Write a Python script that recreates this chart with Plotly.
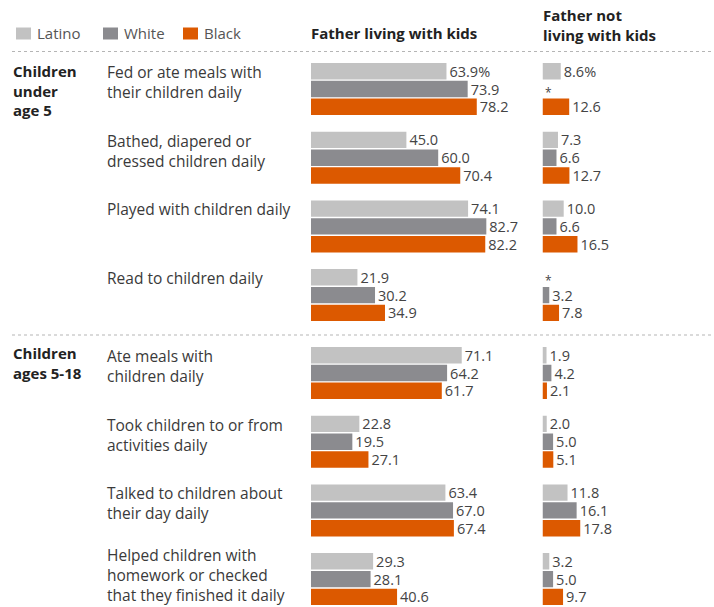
import plotly.graph_objects as go

# ---------------- data ----------------
sections = ["Children<br>under<br>age 5", "Children<br>ages 5-18"]
activities = [
    "Fed or ate meals with<br>their children daily",
    "Bathed, diapered or<br>dressed children daily",
    "Played with children daily",
    "Read to children daily",
    "Ate meals with<br>children daily",
    "Took children to or from<br>activities daily",
    "Talked to children about<br>their day daily",
    "Helped children with<br>homework or checked<br>that they finished it daily",
]
groups = ["Latino", "White", "Black"]

living_latino = [63.9, 45.0, 74.1, 21.9, 71.1, 22.8, 63.4, 29.3]
living_white = [73.9, 60.0, 82.7, 30.2, 64.2, 19.5, 67.0, 28.1]
living_black = [78.2, 70.4, 82.2, 34.9, 61.7, 27.1, 67.4, 40.6]

notliving_latino = [8.6, 7.3, 10.0, None, 1.9, 2.0, 11.8, 3.2]
notliving_white = [None, 6.6, 6.6, 3.2, 4.2, 5.0, 16.1, 5.0]
notliving_black = [12.6, 12.7, 16.5, 7.8, 2.1, 5.1, 17.8, 9.7]

header_living = "Father living with kids"
header_not = "Father not<br>living with kids"

# ---------------- styling / layout ----------------
W, H = 714, 607
colors = {"Latino": "#c2c2c2", "White": "#8b8b8f", "Black": "#dc5900"}
FONT = "Open Sans"
PX_PER_UNIT = 2.12
LEFT_X0 = 311
RIGHT_X0 = 542.5

SEC_TOP = [63, 347]
GROUP_PITCH = 68.7
BAR_PITCH = 17.8
BAR_W = 16.4
LABEL_SIZE = 15.5
LINE_H = 1.3 * LABEL_SIZE


def group_top(i):
    return SEC_TOP[i // 4] + (i % 4) * GROUP_PITCH


def bar_y(i, k):
    return group_top(i) + 8.2 + k * BAR_PITCH


def px(x):
    return x / W


def fmt(vals, pct_first):
    out = []
    for j, v in enumerate(vals):
        if v is None:
            out.append("")
        else:
            s = f"{v:.1f}"
            if j == 0 and pct_first:
                s += "%"
            out.append(s)
    return out


fig = go.Figure()

living = [living_latino, living_white, living_black]
notliving = [notliving_latino, notliving_white, notliving_black]

for k, g in enumerate(groups):
    ys = [bar_y(i, k) for i in range(len(activities))]
    for axis, series in (("x", living[k]), ("x2", notliving[k])):
        fig.add_trace(go.Bar(
            orientation="h",
            x=series,
            y=ys,
            width=BAR_W,
            xaxis=axis,
            yaxis="y",
            marker=dict(color=colors[g], line=dict(width=0)),
            text=fmt(series, k == 0),
            textposition="outside",
            textfont=dict(family=FONT, size=14.5, color="#444444"),
            constraintext="none",
            cliponaxis=False,
            showlegend=False,
            hoverinfo="skip",
        ))

annotations = []
shapes = []

# missing-value asterisks
for k in range(3):
    for i, v in enumerate(notliving[k]):
        if v is None:
            annotations.append(dict(
                x=px(RIGHT_X0 + 0.5), y=bar_y(i, k) + 3, xref="paper", yref="y",
                text="*", showarrow=False, xanchor="left", yanchor="middle",
                font=dict(family=FONT, size=12, color="#444444"),
            ))

# activity labels
for i, lab in enumerate(activities):
    n = lab.count("<br>") + 1
    if n >= 3:
        ann_y, anchor = H - 0.5, "bottom"
    else:
        first = group_top(i) + 9
        ann_y, anchor = first + (n - 1) * LINE_H / 2, "middle"
    annotations.append(dict(
        x=px(106), y=ann_y, xref="paper", yref="y", text=lab,
        showarrow=False, xanchor="left", yanchor=anchor, align="left",
        borderpad=0,
        font=dict(family=FONT, size=LABEL_SIZE, color="#3a3a3a"),
    ))

# section labels
for s, lab in enumerate(sections):
    n = lab.count("<br>") + 1
    first = SEC_TOP[s] + (8 if s == 0 else 6)
    center = first + (n - 1) * 19.5 / 2
    annotations.append(dict(
        x=px(11), y=center, xref="paper", yref="y",
        text="<b>" + lab.replace("<br>", "</b><br><b>") + "</b>",
        showarrow=False, xanchor="left", yanchor="middle", align="left",
        font=dict(family=FONT, size=15, color="#222222"),
    ))

# headers
annotations.append(dict(
    x=px(LEFT_X0 - 2), y=33, xref="paper", yref="y", text="<b>" + header_living + "</b>",
    showarrow=False, xanchor="left", yanchor="middle",
    font=dict(family=FONT, size=15, color="#222222"),
))
annotations.append(dict(
    x=px(RIGHT_X0 - 2), y=24.5, xref="paper", yref="y",
    text="<b>" + header_not.replace("<br>", "</b><br><b>") + "</b>",
    showarrow=False, xanchor="left", yanchor="middle", align="left",
    font=dict(family=FONT, size=15, color="#222222"),
))

# legend
leg_x = {"Latino": 16, "White": 103, "Black": 183}
for g in groups:
    x0 = leg_x[g]
    shapes.append(dict(type="rect", xref="paper", yref="y",
                       x0=px(x0), x1=px(x0 + 15), y0=27.5, y1=39.5,
                       fillcolor=colors[g], line=dict(width=0)))
    annotations.append(dict(
        x=px(x0 + 19), y=33, xref="paper", yref="y", text=g,
        showarrow=False, xanchor="left", yanchor="middle",
        font=dict(family=FONT, size=15, color="#555555"),
    ))

# dotted separators
for yy in (51.5, 335):
    shapes.append(dict(type="line", xref="paper", yref="y",
                       x0=px(12), x1=1, y0=yy, y1=yy,
                       line=dict(color="#b5b5b5", width=1, dash="dot")))

fig.update_layout(
    width=W, height=H,
    margin=dict(l=0, r=0, t=0, b=0),
    paper_bgcolor="white", plot_bgcolor="white",
    barmode="overlay",
    xaxis=dict(domain=[px(LEFT_X0), px(LEFT_X0 + 100 * PX_PER_UNIT)], range=[0, 100],
               visible=False, fixedrange=True),
    xaxis2=dict(domain=[px(RIGHT_X0), 1], range=[0, (W - RIGHT_X0) / PX_PER_UNIT],
                anchor="y", visible=False, fixedrange=True),
    yaxis=dict(domain=[0, 1], range=[H, 0], visible=False, fixedrange=True),
    annotations=annotations,
    shapes=shapes,
    showlegend=False,
)

fig.write_html("out.html")
